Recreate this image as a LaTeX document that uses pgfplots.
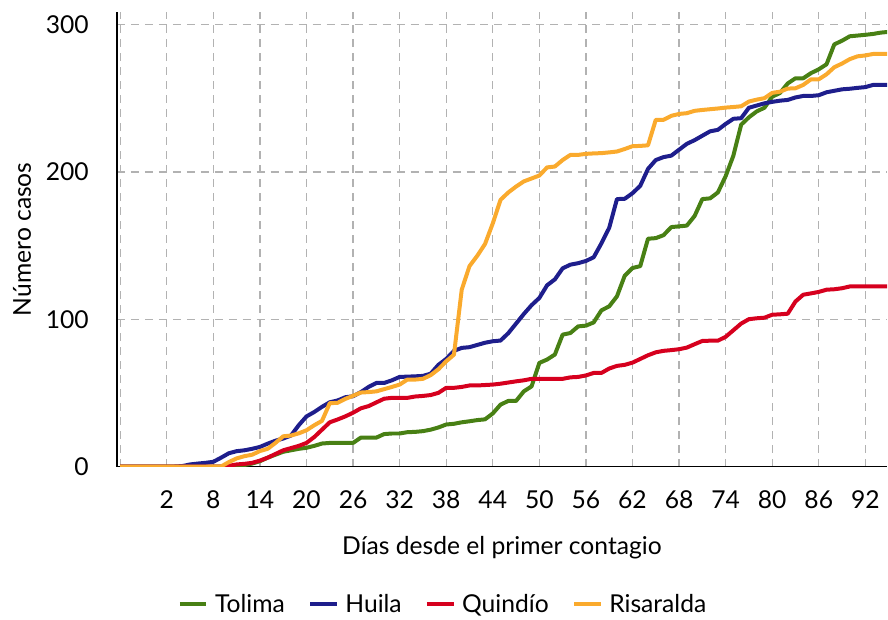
\documentclass[border=0pt]{standalone}
\usepackage{pgfplots}
\pgfplotsset{compat=1.18}
\usepackage{pgfplotstable}
\usepackage{fontspec}
\setmainfont{Lato}

\definecolor{ctol}{RGB}{72,128,20}
\definecolor{chui}{RGB}{30,30,140}
\definecolor{cqui}{RGB}{214,0,30}
\definecolor{cris}{RGB}{250,170,45}

\pgfplotstableread{
day tol hui qui ris
-4 0 0 0 0
-3 0 0 0 0
-2 0 0 0 0
-1 0 0 0 0
0 0 0 0 0
1 0 0 0 0
2 0 0 0 0
3 0 0 0 0
4 0 0.3 0 0
5 0 1.4 0 0
6 0 2 0 0
7 0 2.5 0 0
8 0 3.2 0 0
9 0 6 0 0
10 0 9 0.5 3
11 0 10.4 1.4 5.5
12 1 11 1.8 7
13 2 12 2.5 8
14 3.6 13.3 4 10.5
15 6 15.5 6 12
16 8 17.5 8.5 16
17 10 19 11 20.5
18 11 21 12.5 21
19 12 28 14 22.5
20 12.7 34 16 24.6
21 14 37 20 28
22 15.6 40.5 25 31
23 16 43.6 30 43
24 16 44.8 31.9 43.2
25 16 47 34 45.9
26 16 47.7 36.5 48
27 19.6 50.5 39.5 50.2
28 19.6 54 41 50.5
29 19.6 56.7 43.5 51
30 22 56.7 46 52.5
31 22.4 58.5 46.6 54
32 22.4 60.8 46.6 55.6
33 23.3 61 46.6 59
34 23.5 61.2 47.5 59
35 24 61.5 47.9 59.5
36 25 63 48.5 62
37 26.5 69 50 66
38 28.5 73 53.4 71.4
39 29 78.5 53.4 75.9
40 30 80.5 54 120
41 30.7 81 55 136
42 31.5 82.5 55 143
43 32 84 55.3 151
44 36 85 55.6 165
45 42 85.5 56.2 181
46 44.5 90.5 57 186
47 44.5 97 57.8 190
48 51 103.5 58.5 193.5
49 54.4 109.5 59.5 195.5
50 70.3 114.4 59.5 197.5
51 72.6 123 59.5 203
52 76 127 59.5 203.6
53 89.5 134.5 59.5 208
54 90.6 137 60.5 211.5
55 95.1 138 60.8 211.5
56 95.6 139.5 61.8 212.2
57 97.8 142 63.5 212.5
58 106 151.5 63.5 212.7
59 108.7 162 66.5 213.2
60 115.5 181.5 68.3 213.8
61 129.5 181.7 69 215.5
62 134.7 185.5 70.5 217.4
63 136 190.5 73 217.6
64 154.6 202 75.5 218
65 155 208 77.5 235.3
66 157 210 78.5 235.3
67 162.5 211 79 238
68 163 215 79.6 239.3
69 163.5 219 80.7 239.8
70 170 221.5 83 241.4
71 181.5 224.5 85.2 242
72 182 227.5 85.4 242.5
73 186 228.5 85.4 243
74 197 232.5 88 243.6
75 211 236 92.5 244
76 232 236.4 97 244.5
77 237 243.5 100 247.7
78 241 245 100.6 249
79 243.5 246.5 101 250
80 251 247.5 103 253.6
81 253.5 248.3 103.3 254.4
82 260 248.8 103.7 256.5
83 263.5 250.5 112 256.7
84 263.5 251.5 116.6 259
85 267 251.5 117.5 262.8
86 269.6 252 118.5 262.8
87 273 254 120 266.2
88 286.5 255 120.3 271
89 289 256 121 273.5
90 292 256.4 122.2 276.5
91 292.5 257 122.2 278.4
92 293 257.5 122.2 279
93 293.6 259 122.2 280
94 294.5 259 122.2 280
95 295 259 122.2 280
}\datatable

\begin{document}
\begin{tikzpicture}
\begin{axis}[
  name=ax,
  scale only axis,
  width=578.25pt, height=341.25pt,
  xmin=-4.43, xmax=94.8,
  ymin=0, ymax=308.5,
  axis x line*=bottom, axis y line*=left,
  axis line style={line width=1.4pt, black, -},
  xtick={-4,2,8,14,20,26,32,38,44,50,56,62,68,74,80,86,92},
  xticklabels={{},2,8,14,20,26,32,38,44,50,56,62,68,74,80,86,92},
  ytick={0,100,200,300},
  major tick length=0pt,
  grid=major,
  major grid style={line width=1pt, color=black!30, dash pattern=on 6pt off 4.5pt},
  tick label style={font=\fontsize{18.5}{22}\selectfont},
  /pgf/number format/assume math mode=true,
  xticklabel style={anchor=center, yshift=-24.75pt},
  yticklabel style={anchor=east, inner sep=0pt, xshift=-21pt},
  xlabel={Días desde el primer contagio},
  ylabel={Número casos},
  label style={font=\fontsize{18.5}{22}\selectfont},
  xlabel style={at={(axis description cs:0.5,-0.178)}, anchor=center},
  ylabel style={at={(axis description cs:-0.1232,0.5)}, anchor=center},
  legend style={at={(axis description cs:0.424,-0.3033)}, anchor=center,
    draw=none, fill=none, legend columns=-1,
    font=\fontsize{18.5}{22}\selectfont,
    /tikz/every odd column/.append style={column sep=3pt},
    /tikz/every even column/.append style={column sep=15.5pt}},
  legend image code/.code={\draw[#1] (0cm,0cm) -- (0.7cm,0cm);},
  every axis plot/.append style={line width=3pt, line join=round},
]
\addplot[ctol] table[x=day, y=tol] {\datatable};
\addlegendentry{Tolima}
\addplot[chui] table[x=day, y=hui] {\datatable};
\addlegendentry{Huila}
\addplot[cqui] table[x=day, y=qui] {\datatable};
\addlegendentry{Quindío}
\addplot[cris] table[x=day, y=ris] {\datatable};
\addlegendentry{Risaralda}
\end{axis}
\path (ax.south west) ++(-87.75pt,-114pt) rectangle ++(666pt,464.25pt);
\end{tikzpicture}
\end{document}
